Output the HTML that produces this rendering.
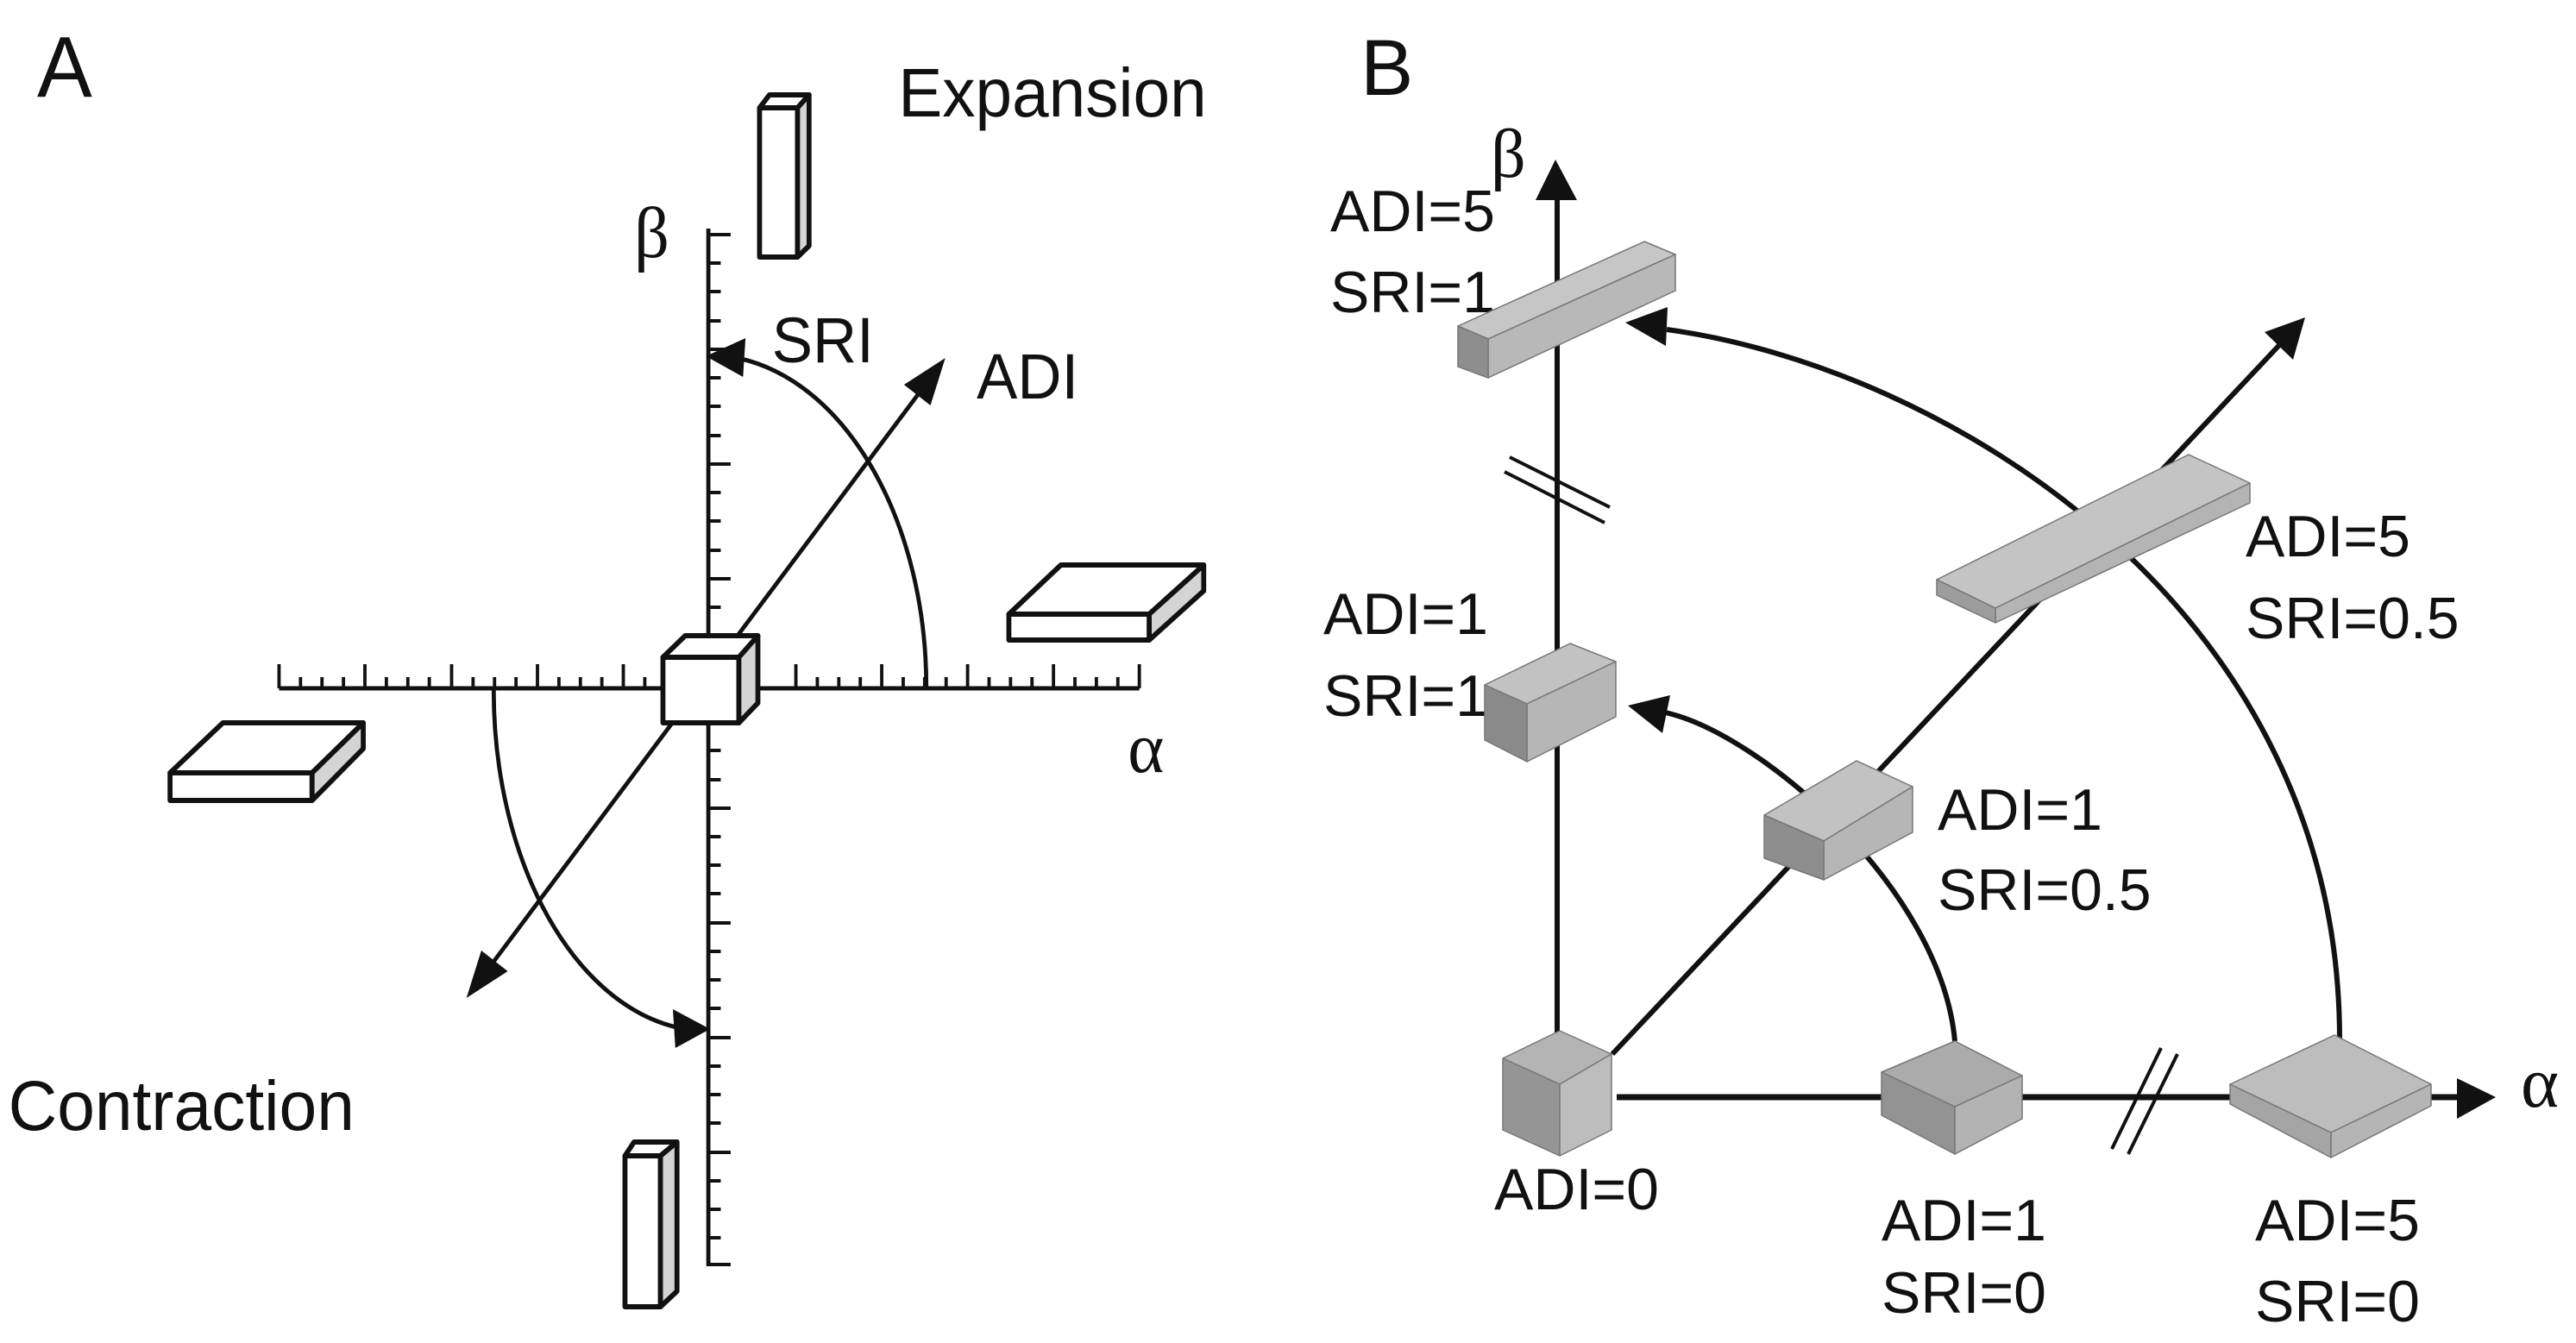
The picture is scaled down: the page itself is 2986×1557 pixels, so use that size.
<!DOCTYPE html>
<html><head><meta charset="utf-8"><style>
html,body{margin:0;padding:0;background:#fff;}
svg{display:block;}
text{font-family:"Liberation Sans",sans-serif;fill:#111;}
.s{font-family:"Liberation Serif",serif;}
</style></head><body>
<svg width="2986" height="1557" viewBox="0 0 2986 1557" xmlns="http://www.w3.org/2000/svg">
<g transform="scale(0.957,1)">
<text x="45" y="112" font-size="100">A</text>
<text x="1088" y="135" font-size="80">Expansion</text>
<text x="10" y="1310" font-size="82">Contraction</text>
<text x="935" y="420" font-size="74">SRI</text>
<text x="1183" y="462" font-size="74">ADI</text>
<text class="s" x="768" y="298" font-size="84">β</text>
<text class="s" x="1366" y="895" font-size="84">α</text>
<!-- axes -->
<g stroke="#111" stroke-width="5" fill="none">
<line x1="858" y1="265" x2="858" y2="1468"/>
<line x1="338" y1="798" x2="1380" y2="798"/>
<path id="ticksY" d="M858 272h27M858 305h15M858 338h15M858 372h15M858 405h27M858 438h15M858 471h15M858 505h15M858 538h27M858 571h15M858 604h15M858 638h15M858 671h27M858 704h15M858 737h15M858 771h15M858 804h27M858 837h15M858 870h15M858 904h15M858 937h27M858 970h15M858 1003h15M858 1036h15M858 1070h27M858 1103h15M858 1136h15M858 1169h15M858 1203h27M858 1236h15M858 1269h15M858 1302h15M858 1336h27M858 1369h15M858 1402h15M858 1435h15M858 1466h27" stroke-width="4"/>
<path d="M338 798v-28M364 798v-13M390 798v-13M416 798v-13M442 798v-28M468 798v-13M494 798v-13M520 798v-13M547 798v-28M573 798v-13M599 798v-13M625 798v-13M651 798v-28M677 798v-13M703 798v-13M729 798v-13M755 798v-28M781 798v-13M964 798v-28M990 798v-13M1016 798v-13M1042 798v-13M1068 798v-28M1094 798v-13M1120 798v-13M1146 798v-13M1172 798v-28M1198 798v-13M1224 798v-13M1250 798v-13M1276 798v-28M1302 798v-13M1328 798v-13M1354 798v-13M1380 798v-28" stroke-width="4"/>
<!-- arcs -->
<path d="M1122 798 A264 385 0 0 0 880 413" stroke-width="5"/>
<path d="M598 798 A260 395 0 0 0 830 1193" stroke-width="5"/>
<line x1="590" y1="1125" x2="1120" y2="447" stroke-width="5"/>
</g>
<g fill="#111">
<polygon points="855,413 903,392 900,437"/>
<polygon points="860,1193 815,1170 818,1215"/>
<polygon points="1145,415 1127,470 1095,446"/>
<polygon points="565,1157 615,1126 583,1102"/>
</g>
<!-- boxes -->
<g stroke="#111" stroke-width="6" stroke-linejoin="round">
<polygon points="803,762 895,762 895,838 803,838" fill="#fff"/>
<polygon points="803,762 830,737 918,737 895,762" fill="#fff"/>
<polygon points="895,762 918,737 918,815 895,838" fill="#d4d4d4"/>
<polygon points="1222,712 1392,712 1392,742 1222,742" fill="#fff"/>
<polygon points="1222,712 1285,655 1458,655 1392,712" fill="#fff"/>
<polygon points="1392,712 1458,655 1458,685 1392,742" fill="#d4d4d4"/>
<polygon points="206,896 378,896 378,928 206,928" fill="#fff"/>
<polygon points="206,896 270,838 440,838 378,896" fill="#fff"/>
<polygon points="378,896 440,838 440,868 378,928" fill="#d4d4d4"/>
<polygon points="920,125 966,125 966,298 920,298" fill="#fff"/>
<polygon points="920,125 932,110 980,110 966,125" fill="#fff"/>
<polygon points="966,125 980,110 980,285 966,298" fill="#d4d4d4"/>
<polygon points="757,1340 800,1340 800,1515 757,1515" fill="#fff"/>
<polygon points="757,1340 768,1324 820,1324 800,1340" fill="#fff"/>
<polygon points="800,1340 820,1324 820,1497 800,1515" fill="#d4d4d4"/>
</g>
</g>

<!-- Panel B -->
<text x="1577" y="110" font-size="92">B</text>
<text class="s" x="1728" y="205" font-size="80">β</text>
<g font-size="68">
<text x="1542" y="268">ADI=5</text>
<text x="1542" y="362">SRI=1</text>
<text x="1534" y="735">ADI=1</text>
<text x="1534" y="830">SRI=1</text>
<text x="2603" y="645">ADI=5</text>
<text x="2603" y="740">SRI=0.5</text>
<text x="2246" y="962">ADI=1</text>
<text x="2246" y="1055">SRI=0.5</text>
<text x="1732" y="1402">ADI=0</text>
<text x="2181" y="1438">ADI=1</text>
<text x="2181" y="1522">SRI=0</text>
<text x="2614" y="1438">ADI=5</text>
<text x="2614" y="1532">SRI=0</text>
</g>
<text class="s" x="2922" y="1283" font-size="84">α</text>
<g stroke="#111" fill="none">
<line x1="1805" y1="1200" x2="1805" y2="225" stroke-width="6"/>
<line x1="1874" y1="1272" x2="2850" y2="1272" stroke-width="7"/>
<line x1="1869" y1="1222" x2="2645" y2="397" stroke-width="6"/>
<path d="M2712 1205 C2712 700 2250 425 1932 382" stroke-width="6"/>
<path d="M2266 1207 C2250 1030 2040 850 1930 826" stroke-width="6"/>
<line x1="1750" y1="530" x2="1866" y2="588" stroke-width="4"/>
<line x1="1744" y1="547" x2="1860" y2="606" stroke-width="4"/>
<line x1="2505" y1="1215" x2="2448" y2="1332" stroke-width="4"/>
<line x1="2524" y1="1222" x2="2467" y2="1338" stroke-width="4"/>
</g>
<g fill="#111">
<polygon points="1803,185 1780,232 1828,232"/>
<polygon points="2893,1272 2848,1250 2848,1297"/>
<polygon points="2672,368 2625,385 2658,417"/>
<polygon points="1884,374 1933,356 1931,401"/>
<polygon points="1887,818 1936,806 1927,850"/>
</g>
<g stroke="#777" stroke-width="1.5" stroke-linejoin="round">
<!-- top bar -->
<polygon points="1690,378 1906,280 1942,295 1725,393" fill="#c6c6c6"/>
<polygon points="1725,393 1942,295 1942,337 1725,438" fill="#b8b8b8"/>
<polygon points="1690,378 1725,393 1725,438 1690,425" fill="#8e8e8e"/>
<!-- mid bar -->
<polygon points="2245,672 2537,527 2608,560 2313,705" fill="#c4c4c4"/>
<polygon points="2313,705 2608,560 2608,583 2313,722" fill="#b4b4b4"/>
<polygon points="2245,672 2313,705 2313,722 2245,690" fill="#9c9c9c"/>
<!-- ADI=1 SRI=1 -->
<polygon points="1721,794 1820,746 1873,767 1770,816" fill="#c2c2c2"/>
<polygon points="1770,816 1873,767 1873,831 1770,883" fill="#b6b6b6"/>
<polygon points="1721,794 1770,816 1770,883 1721,858" fill="#8a8a8a"/>
<!-- ADI=1 SRI=0.5 -->
<polygon points="2045,945 2152,882 2217,912 2114,975" fill="#c2c2c2"/>
<polygon points="2114,975 2217,912 2217,965 2114,1020" fill="#b6b6b6"/>
<polygon points="2045,945 2114,975 2114,1020 2045,995" fill="#8e8e8e"/>
<!-- origin cube -->
<polygon points="1808,1195 1868,1222 1808,1257 1742,1227" fill="#b4b4b4"/>
<polygon points="1742,1227 1808,1257 1808,1340 1742,1310" fill="#959595"/>
<polygon points="1808,1257 1868,1222 1868,1310 1808,1340" fill="#bdbdbd"/>
<!-- ADI=1 SRI=0 -->
<polygon points="2266,1207 2344,1247 2266,1283 2181,1243" fill="#ababab"/>
<polygon points="2181,1243 2266,1283 2266,1338 2181,1293" fill="#939393"/>
<polygon points="2266,1283 2344,1247 2344,1297 2266,1338" fill="#b3b3b3"/>
<!-- ADI=5 SRI=0 -->
<polygon points="2706,1200 2818,1257 2702,1313 2585,1257" fill="#bdbdbd"/>
<polygon points="2585,1257 2702,1313 2702,1342 2585,1280" fill="#a5a5a5"/>
<polygon points="2702,1313 2818,1257 2818,1282 2702,1342" fill="#b5b5b5"/>
</g>
</svg>
</body></html>
